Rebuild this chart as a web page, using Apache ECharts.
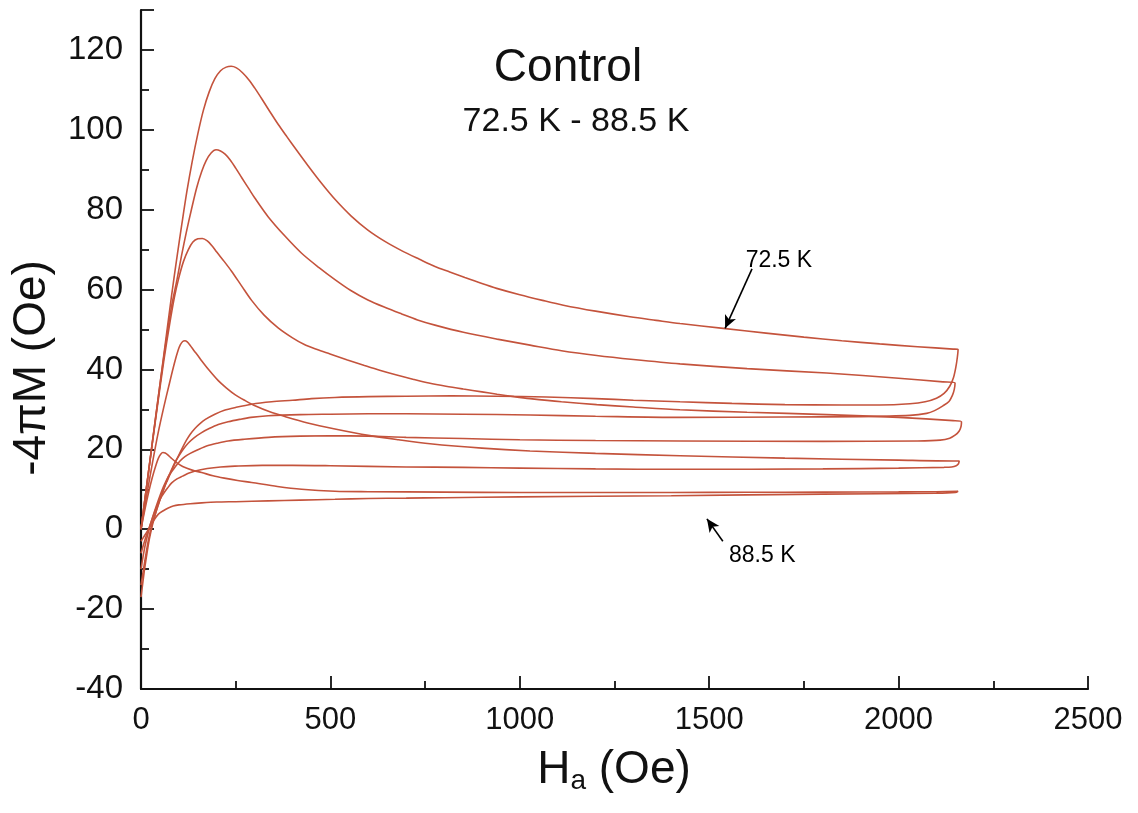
<!DOCTYPE html>
<html>
<head>
<meta charset="utf-8">
<title>Control 72.5 K - 88.5 K</title>
<script src="https://cdn.jsdelivr.net/npm/echarts@6/dist/echarts.min.js"></script>
<style>
  html, body { margin: 0; padding: 0; background: #ffffff; }
  #chart { width: 1138px; height: 813px; }
</style>
</head>
<body>
<div id="chart"></div>
<script>
// Magnetisation loops -4πM vs applied field Ha, one loop per temperature.
// Each loop: virgin rise from zero, decreasing branch up to the top field,
// then the return branch back down to zero field.  Points are [Ha, -4πM].

var loop1 = [ // 72.5 K
  [0,0],[20,14.5],[40,29],[60,43.5],[80,58],[94,67.5],[108,76.5],[121,84.5],[135,92],[150,99],[165,105],
  [180,109.5],[195,112.8],[210,114.8],[225,115.7],[238,115.9],[252,115.5],[268,114.3],[285,112.5],
  [300,110.5],[320,107.6],[340,104.6],[362,101.4],[385,98.3],[410,95],[441,91],[475,86.8],[512,82.6],
  [555,78.4],[599,74.9],[645,72],[689,69.7],[735,67.6],[776,65.8],[815,64.4],[855,63],[900,61.5],
  [939,60.3],[1000,58.7],[1060,57.3],[1115,56.1],[1200,54.6],[1291,53.2],[1360,52.3],[1423,51.5],
  [1537,50.3],[1650,49.1],[1750,48.1],[1850,47.2],[1950,46.4],[2050,45.7],[2144,45.1],[2157,45],
  [2155,43],[2151,40.5],[2145,38],[2135,35.8],[2120,34],[2100,32.8],[2070,31.9],[2030,31.4],[1950,31.1],
  [1850,31.1],[1700,31.2],[1560,31.5],[1423,31.9],[1300,32.3],[1200,32.7],[1070,33.1],[939,33.3],[820,33.4],
  [700,33.3],[600,33.2],[512,33],[450,32.7],[400,32.3],[345,31.9],[292,31.3],[250,30.5],[220,29.8],
  [195,28.8],[170,27.5],[155,26.4],[143,25.3],[130,23.8],[120,22.3],[110,20.5],[99,18.4],[90,16.6],
  [80,14.5],[70,12.3],[63,10.8],[55,8.7],[45,6],[37,3.5],[30,1],[22,-2.5],[15,-6.5],[8,-11],[0,-17]
];

var loop2 = [
  [0,0],[20,14.5],[40,29],[60,43],[80,55.5],[95,62.5],[107,68.5],[120,74.5],[133,80],[147,85.5],
  [160,89.5],[172,92.3],[185,94.2],[198,95],[210,94.7],[222,93.9],[235,92.5],[250,90.4],[266,88],
  [285,85.2],[300,83],[336,78.2],[380,73.4],[424,69.1],[470,65.5],[512,62.5],[555,59.7],[599,57.4],
  [645,55.5],[688,53.9],[730,52.4],[776,51.1],[851,49.3],[940,47.6],[1027,46.1],[1110,44.7],[1203,43.5],
  [1300,42.5],[1423,41.4],[1600,40.2],[1810,39.1],[2000,37.8],[2117,36.9],[2149,36.6],
  [2147,35],[2142,33.5],[2133,32],[2117,30.9],[2095,29.7],[2074,29],[2030,28.5],[1900,28.2],[1700,28.1],
  [1423,28],[1200,28.3],[1027,28.6],[850,28.8],[700,28.9],[600,28.9],[499,28.8],[420,28.7],[336,28.4],
  [290,28],[260,27.5],[230,26.9],[204,26.2],[180,25.2],[160,24.2],[140,22.9],[125,21.6],[112,20.1],
  [100,18.4],[90,16.8],[81,15],[70,12.6],[60,10.1],[50,7.4],[40,4.5],[30,1.5],[20,-2.5],[10,-8],[0,-14]
];

var loop3 = [
  [0,0],[20,14.5],[40,28.5],[60,42],[75,51],[88,58],[100,63],[112,67],[125,70],[137,71.9],[150,72.7],
  [162,72.8],[175,72.2],[188,70.9],[200,69.4],[220,67],[239,64.6],[265,61],[292,57.3],[325,53.6],
  [362,50.4],[400,47.9],[430,46.3],[465,45],[499,43.9],[545,42.4],[590,41],[630,39.8],[675,38.6],
  [720,37.5],[760,36.6],[805,35.8],[851,35.1],[900,34.4],[940,33.8],[985,33.2],[1027,32.7],[1110,31.9],
  [1203,31.2],[1300,30.6],[1423,29.9],[1600,29.3],[1810,28.7],[2000,28],[2144,27.2],[2166,26.9],
  [2165,25.8],[2160,24.6],[2150,23.6],[2135,22.8],[2110,22.3],[2050,22.1],[1800,22],[1423,22.1],
  [1200,22.2],[1000,22.4],[850,22.7],[700,23],[600,23.3],[499,23.4],[420,23.3],[336,23],[270,22.5],
  [230,22.1],[204,21.6],[175,20.9],[150,19.9],[130,19],[116,18.2],[103,17.1],[90,15.6],[80,14.3],
  [72,13.2],[60,10.8],[50,8.4],[40,5.7],[30,2.8],[20,-0.5],[10,-4.5],[0,-10]
];

var loop4 = [
  [0,0],[15,8.5],[30,16.5],[45,24],[60,30.5],[75,36.5],[88,41.5],[98,44.8],[104,46.2],[110,47],
  [116,47.2],[122,46.9],[130,46],[140,44.7],[150,43.5],[160,42.2],[180,39.8],[204,37.2],[225,35.4],
  [248,33.7],[275,32.2],[301,30.9],[340,29.4],[380,28.2],[440,26.6],[512,25.1],[600,23.5],[680,22.4],
  [763,21.4],[900,20.3],[1027,19.6],[1200,19],[1423,18.4],[1700,17.8],[2000,17.3],[2144,17.1],[2160,17.1],
  [2158,16.4],[2152,15.9],[2140,15.6],[2120,15.5],[2000,15.3],[1800,15.1],[1423,15],[1200,15.1],
  [1000,15.3],[850,15.5],[700,15.6],[499,15.9],[400,16],[320,16],[248,15.8],[210,15.6],[175,15.2],
  [143,14.6],[125,14],[110,13.3],[95,12.6],[81,11.6],[70,10.3],[60,9],[50,7.5],[46,6.7],[38,4.8],
  [30,2.7],[20,0],[10,-2.8],[0,-6]
];

var loop5 = [ // 88.5 K
  [0,0],[10,4.8],[20,9.2],[30,13],[40,16.2],[46,17.8],[52,18.8],[58,19.2],[64,19.1],[70,18.7],[80,17.8],
  [95,16.6],[110,15.7],[135,14.8],[160,14.2],[190,13.4],[220,12.8],[255,12.2],[292,11.7],[360,10.7],
  [424,10],[512,9.5],[600,9.4],[800,9.3],[1000,9.2],[1200,9.2],[1400,9.2],[1600,9.25],[1800,9.3],
  [2000,9.35],[2100,9.4],[2157,9.5],
  [2150,9.2],[2100,9],[1800,8.8],[1400,8.4],[1000,8.1],[800,7.9],[700,7.8],[600,7.7],[512,7.5],[420,7.3],
  [336,7.1],[250,6.9],[200,6.8],[160,6.6],[130,6.4],[100,6.1],[85,5.8],[72,5.3],[60,4.7],[46,3.8],
  [38,2.8],[30,1.6],[20,0],[10,-1.5],[0,-3]
];

// Temperature callouts: label position, arrow tail and arrow tip (data units)
var calloutText = ['72.5 K', '88.5 K'];
var calloutLabelAt = [[1684, 67.2], [1640, -6.6]];
var calloutArrowFrom = [[1613, 65.2], [1536, -3.0]];
var calloutArrowTo = [[1542, 50.3], [1494, 2.6]];

var xTicks = { min: 0, max: 2500, step: 500 };
var yTicks = { min: -40, max: 130, step: 20, lastLabel: 120 };

var loops = [loop1, loop2, loop3, loop4, loop5];
var lineColor = '#c4533c';
var font = '"Liberation Sans", Arial, Helvetica, sans-serif';

var series = loops.map(function (pts, i) {
  return {
    type: 'line',
    name: 'loop' + (i + 1),
    data: pts,
    showSymbol: false,
    smooth: 0.3,
    lineStyle: { color: lineColor, width: 1.6 },
    z: 3
  };
});

// arrows
series.push({
  type: 'line',
  name: 'arrows',
  data: [],
  markLine: {
    silent: true,
    symbol: ['none', 'arrow'],
    symbolSize: [9, 13],
    label: { show: false },
    lineStyle: { color: '#000', width: 1.6, type: 'solid' },
    data: calloutArrowFrom.map(function (p, i) {
      return [{ coord: p }, { coord: calloutArrowTo[i] }];
    })
  }
});

// callout texts
series.push({
  type: 'scatter',
  name: 'callouts',
  symbolSize: 0,
  itemStyle: { opacity: 1 },
  data: calloutLabelAt.map(function (p, i) { return { value: p, name: calloutText[i] }; }),
  label: {
    show: true,
    position: 'inside',
    formatter: function (p) { return p.name; },
    color: '#000',
    fontSize: 23,
    fontFamily: font
  },
  z: 5
});

var chart = echarts.init(document.getElementById('chart'), null, { renderer: 'canvas' });
chart.setOption({
  backgroundColor: '#ffffff',
  animation: false,
  grid: { left: 141, right: 50, top: 10, bottom: 124, containLabel: false },
  xAxis: {
    type: 'value',
    min: xTicks.min, max: xTicks.max, interval: xTicks.step,
    axisLine: { show: true, onZero: false, lineStyle: { color: '#111', width: 2.2 } },
    axisTick: { show: true, inside: true, length: 13, lineStyle: { color: '#111', width: 1.8 } },
    minorTick: { show: true, splitNumber: 2, length: 8, lineStyle: { color: '#111', width: 1.8 } },
    splitLine: { show: false },
    axisLabel: {
      color: '#111', fontSize: 31, fontFamily: font, margin: 16,
      formatter: function (v) { return String(v); }
    }
  },
  yAxis: {
    type: 'value',
    min: yTicks.min, max: yTicks.max, interval: yTicks.step,
    axisLine: { show: true, onZero: false, lineStyle: { color: '#111', width: 2.2 } },
    axisTick: { show: true, inside: true, length: 13, lineStyle: { color: '#111', width: 1.8 } },
    minorTick: { show: true, splitNumber: 2, length: 8, lineStyle: { color: '#111', width: 1.8 } },
    splitLine: { show: false },
    axisLabel: {
      color: '#111', fontSize: 33, fontFamily: font, margin: 18,
      formatter: function (v) { return v > yTicks.lastLabel ? '' : String(v); }
    }
  },
  graphic: [
    {
      type: 'text', x: 568, y: 68,
      style: { text: 'Control', fill: '#111', font: '46px ' + font, textAlign: 'center', textVerticalAlign: 'middle' }
    },
    {
      type: 'text', x: 576, y: 122,
      style: { text: '72.5 K - 88.5 K', fill: '#111', font: '34px ' + font, textAlign: 'center', textVerticalAlign: 'middle' }
    },
    {
      type: 'text', x: 32, y: 368, rotation: Math.PI / 2,
      style: { text: '-4πM (Oe)', fill: '#111', font: '46px ' + font, textAlign: 'center', textVerticalAlign: 'middle' }
    },
    {
      type: 'text', x: 614, y: 770,
      style: {
        text: '{h|H}{s|a}{h| (Oe)}',
        textAlign: 'center', textVerticalAlign: 'middle',
        rich: {
          h: { fontSize: 46, fontFamily: font, fill: '#111', color: '#111' },
          s: { fontSize: 28, fontFamily: font, fill: '#111', color: '#111', padding: [22, 0, 0, 0] }
        }
      }
    }
  ],
  series: series
});
</script>
</body>
</html>
